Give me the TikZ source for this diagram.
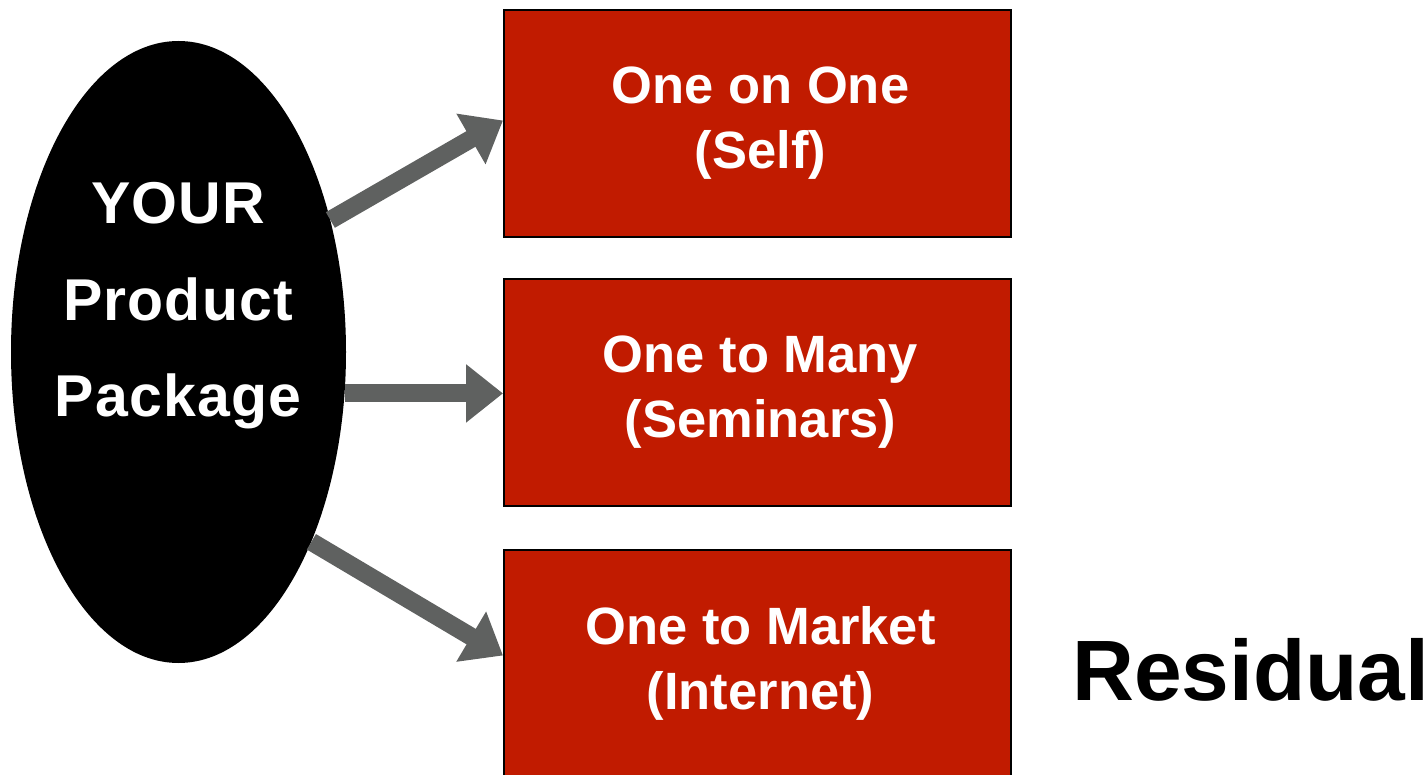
\documentclass[tikz,border=0pt]{standalone}
\usepackage{fontspec}
\setmainfont{Liberation Sans}
\usetikzlibrary{shapes.geometric,arrows.meta,calc}
\definecolor{boxred}{RGB}{193,27,0}
\definecolor{arrowgray}{RGB}{95,97,96}
\begin{document}
\begin{tikzpicture}[x=1pt,y=-1pt,
  pkgshape/.style={ellipse,fill=black,draw=none,minimum width=335pt,minimum height=622pt,inner sep=0pt},
  pkgtxt/.style={text=white,font=\bfseries\fontsize{59}{96.5}\selectfont\addfontfeatures{LetterSpace=2},align=center,inner sep=0pt},
  redbox/.style={rectangle,fill=boxred,draw=black,line width=2pt,minimum width=507pt,minimum height=227pt,inner sep=0pt,
    text=white,font=\bfseries\fontsize{52.5}{65}\selectfont,align=center},
  bigarrow/.style={draw=arrowgray,line width=18pt,-{Triangle[width=56pt,length=37pt]},color=arrowgray},
  bigtxt/.style={font=\bfseries\fontsize{85.7}{100}\selectfont,inner sep=0pt,anchor=base west}
]
\useasboundingbox (0,0) rectangle (1428,775);
\node[pkgshape] (pkg) at (178.5,352) {};
\node[pkgtxt] (pkgt) at (178,306) {YOUR\\Product\\Package};
\node[redbox] (b1) at (757.5,123.5) {\hspace*{6pt}One on One\\\hspace*{6pt}(Self)};
\node[redbox] (b2) at (757.5,392.5) {\hspace*{6pt}One to Many\\\hspace*{6pt}(Seminars)};
\node[redbox] (b3) at (757.5,663.5) {\hspace*{6pt}One to Market\\\hspace*{6pt}(Internet)};
\node[bigtxt] (res) at (1072,700) {Residual};
\draw[bigarrow] (pkg.41) -- ($(b1.west)+(0,-3)$);
\draw[bigarrow] (pkg.-14.3) -- (pkg.-14.3 -| b2.west);
\draw[bigarrow] (pkg.-55) -- ($(b3.west)+(0,-8)$);
\end{tikzpicture}
\end{document}
